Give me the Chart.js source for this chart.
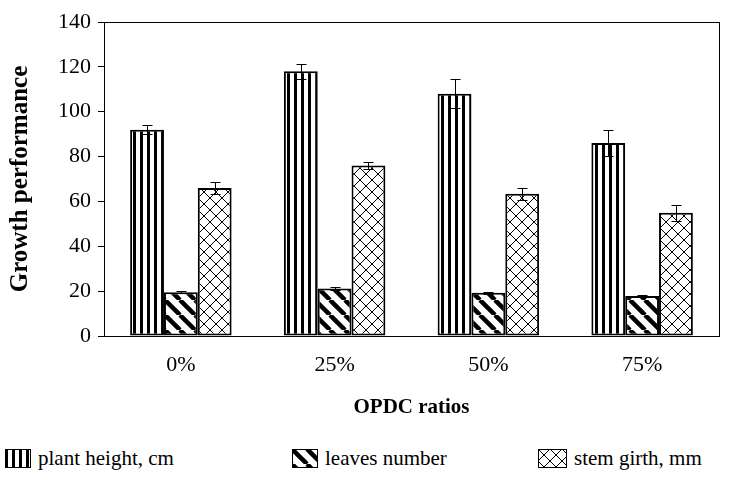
<!DOCTYPE html>
<html>
<head>
<meta charset="utf-8">
<script src="https://cdn.jsdelivr.net/npm/chart.js@4.4.1/dist/chart.umd.min.js"></script>
<style>
  html, body { margin: 0; padding: 0; background: #fff; overflow: hidden; }
  #wrap { position: relative; width: 737px; height: 486px; }
  #plot { position: absolute; left: 0; top: 0; width: 737px; height: 430px; }
  .item { position: absolute; top: 449px; height: 19px; white-space: nowrap;
          font-family: "Liberation Serif", serif; font-size: 21px; line-height: 19px; color: #000; }
  .item canvas { vertical-align: top; margin-right: 7px; }
</style>
</head>
<body>
<div id="wrap">
  <div id="plot"><canvas id="myChart"></canvas></div>
  <div id="legend"></div>
</div>
<script>
const labels = ["0%", "25%", "50%", "75%"];
const plantHeight = [92, 118, 108, 86];
const plantHeightErr = [1.9, 3.4, 6.4, 5.9];
const leavesNumber = [19.5, 21.2, 19.3, 17.8];
const leavesNumberErr = [0.4, 0.5, 0.4, 0.4];
const stemGirth = [66, 76, 63.4, 55];
const stemGirthErr = [2.6, 1.6, 2.8, 3.6];
const yTicks = [0, 20, 40, 60, 80, 100, 120, 140];

function makePattern(kind) {
  const c = document.createElement("canvas");
  const s = kind === "vertical" ? 7 : kind === "diagonal" ? 15 : 12;
  c.width = s; c.height = s;
  const g = c.getContext("2d");
  g.fillStyle = "#fff";
  g.fillRect(0, 0, s, s);
  g.fillStyle = "#000";
  g.strokeStyle = "#000";
  if (kind === "vertical") {
    g.fillRect(0, 0, 3, s);
  } else if (kind === "diagonal") {
    g.lineWidth = 4.5;
    for (let k = -1; k <= 1; k++) {
      g.beginPath();
      g.moveTo(k * s, 0);
      g.lineTo(k * s + s, s);
      g.stroke();
    }
  } else {
    g.lineWidth = 1;
    for (let k = -1; k <= 1; k++) {
      g.beginPath();
      g.moveTo(k * s, 0);
      g.lineTo(k * s + s, s);
      g.moveTo(k * s + s, 0);
      g.lineTo(k * s, s);
      g.stroke();
    }
  }
  return document.createElement("canvas").getContext("2d").createPattern(c, "repeat");
}

const patterns = {
  vertical: makePattern("vertical"),
  diagonal: makePattern("diagonal"),
  cross: makePattern("cross"),
};

const errorBars = {
  id: "errorBars",
  afterDatasetsDraw(chart) {
    const ctx = chart.ctx;
    const y = chart.scales.y;
    ctx.save();
    ctx.strokeStyle = "#000";
    ctx.lineWidth = 1;
    chart.data.datasets.forEach((ds, i) => {
      chart.getDatasetMeta(i).data.forEach((bar, j) => {
        const v = ds.data[j], e = ds.errors[j];
        const top = Math.round(y.getPixelForValue(v + e)) + 0.5;
        const bot = Math.round(y.getPixelForValue(v - e)) + 0.5;
        const x = Math.round(bar.x) + 0.5;
        ctx.beginPath();
        ctx.moveTo(x, top); ctx.lineTo(x, bot);
        ctx.moveTo(x - 5, top); ctx.lineTo(x + 5, top);
        ctx.moveTo(x - 5, bot); ctx.lineTo(x + 5, bot);
        ctx.stroke();
      });
    });
    ctx.restore();
  }
};

const font = { family: "Liberation Serif", size: 22 };
const titleFont = { family: "Liberation Serif", size: 21, weight: "bold" };

const data = {
  labels: labels,
  datasets: [
    { label: "plant height, cm", data: plantHeight, errors: plantHeightErr, backgroundColor: patterns.vertical },
    { label: "leaves number", data: leavesNumber, errors: leavesNumberErr, backgroundColor: patterns.diagonal },
    { label: "stem girth, mm", data: stemGirth, errors: stemGirthErr, backgroundColor: patterns.cross },
  ].map(d => Object.assign(d, {
    borderColor: "#000",
    borderWidth: 2,
    borderSkipped: false,
    categoryPercentage: 0.66,
    barPercentage: 1.0,
  })),
};

const config = {
  type: "bar",
  data,
  options: {
    maintainAspectRatio: false,
    animation: false,
    layout: { padding: { top: 22, right: 18, left: 0, bottom: 0 } },
    plugins: {
      legend: { display: false },
      tooltip: { enabled: false },
    },
    scales: {
      x: {
        grid: { display: true, drawOnChartArea: false, drawTicks: false, color: "#000" },
        border: { color: "#000", width: 1 },
        ticks: { color: "#000", font, padding: 16 },
        title: { display: true, text: "OPDC ratios", color: "#000", font: titleFont, padding: { top: 4, bottom: 10 } },
        afterFit: (s) => { s.height = 94; },
      },
      xTop: {
        position: "top",
        grid: { display: true, drawOnChartArea: false, drawTicks: false, color: "#000" },
        border: { color: "#000", width: 1 },
        ticks: { display: false },
        afterFit: (s) => { s.height = 0; },
      },
      y: {
        min: 0,
        max: 140,
        afterBuildTicks: (s) => { s.ticks = yTicks.map(v => ({ value: v })); },
        grid: { display: true, drawOnChartArea: false, drawTicks: true, tickLength: 6, color: "#000" },
        border: { color: "#000", width: 1 },
        ticks: { color: "#000", font, padding: 7 },
        title: { display: true, text: "Growth performance", color: "#000",
                 font: { family: "Liberation Serif", size: 25, weight: "bold" }, padding: { top: 6 } },
        afterFit: (s) => { s.width = 104; },
      },
      yRight: {
        position: "right",
        grid: { display: true, drawOnChartArea: false, drawTicks: false, color: "#000" },
        border: { color: "#000", width: 1 },
        ticks: { display: false },
        afterFit: (s) => { s.width = 0; },
      },
    },
  },
  plugins: [errorBars],
};

var myChart = new Chart(document.getElementById("myChart"), config);

// legend below the plot, swatches filled with the same patterns
const legendLeft = [5, 292, 538];
const legendEl = document.getElementById("legend");
data.datasets.forEach((ds, i) => {
  const item = document.createElement("div");
  item.className = "item";
  item.style.left = legendLeft[i] + "px";
  const sw = document.createElement("canvas");
  sw.width = i === 2 ? 29 : 26; sw.height = 19;
  const g = sw.getContext("2d");
  g.fillStyle = ds.backgroundColor;
  g.fillRect(0, 0, sw.width, 19);
  g.strokeStyle = "#000";
  g.lineWidth = 1;
  g.strokeRect(0.5, 0.5, sw.width - 1, 18);
  item.appendChild(sw);
  item.appendChild(document.createTextNode(ds.label));
  legendEl.appendChild(item);
});
</script>
</body>
</html>
